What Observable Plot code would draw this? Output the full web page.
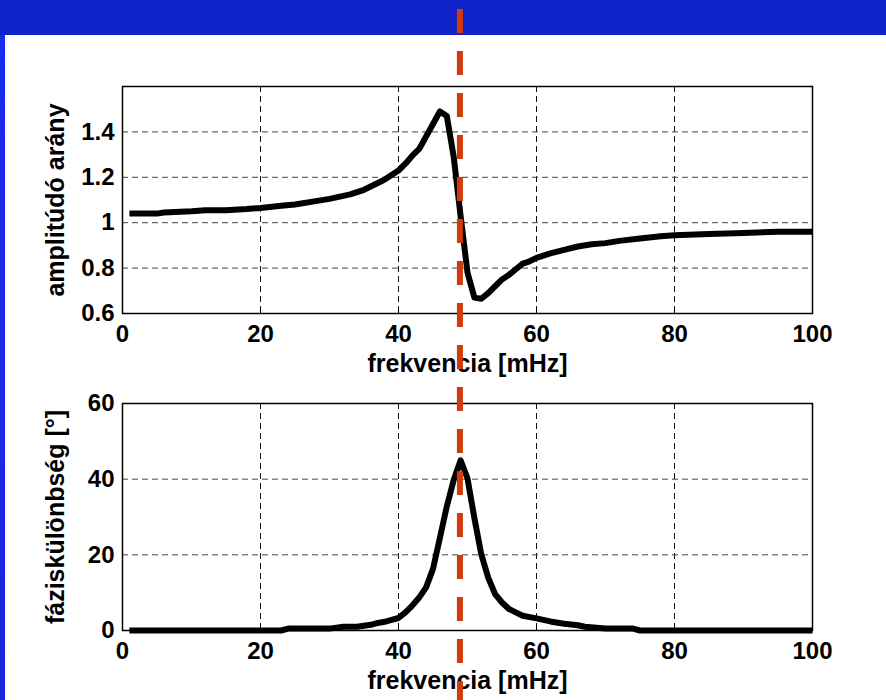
<!DOCTYPE html>
<html>
<head>
<meta charset="utf-8">
<script src="https://cdn.jsdelivr.net/npm/d3@7"></script>
<script src="https://cdn.jsdelivr.net/npm/@observablehq/plot@0.6"></script>
<style>
  html, body { margin: 0; padding: 0; background: #fff; width: 886px; height: 700px; overflow: hidden; }
  #wrap { position: relative; width: 886px; height: 700px; }
  .layer { position: absolute; left: 0; }
  #band { position: absolute; left: 0; top: 0; width: 886px; height: 35px; background: #1023C8; z-index: 5; }
  #strip { position: absolute; left: 0; top: 35px; width: 5px; height: 665px; background: linear-gradient(#1B2CF2, #1828DC); z-index: 5; }
  #overlay { z-index: 10; pointer-events: none; }
  svg text { font-family: "Liberation Sans", Arial, sans-serif; font-weight: bold; }
  g[aria-label="x-axis label"] text, g[aria-label="y-axis label"] text { font-size: 25px; }
</style>
</head>
<body>
<div id="wrap">
  <div id="band"></div>
  <div id="strip"></div>
  <div id="p1" class="layer" style="top:0"></div>
  <div id="p2" class="layer" style="top:390px"></div>
  <div id="overlay" class="layer" style="top:0"></div>
</div>
<script>
// ---- data ----
const xTicks = [0, 20, 40, 60, 80, 100];
const ampTicks = [0.6, 0.8, 1, 1.2, 1.4];
const phaseTicks = [0, 20, 40, 60];
const xLabel = "frekvencia [mHz]";
const ampLabel = "amplitúdó arány";
const phaseLabel = "fáziskülönbség [°]";
const markerFreq = [48.9];

const ampFreq = [1, 5, 6, 10, 12, 15, 18, 20, 23, 25, 28, 30, 33, 35, 37, 38, 39, 40, 41, 42, 43, 44, 45, 46, 47, 48, 49, 50, 51, 52, 53, 54, 55, 56, 57, 58, 59, 60, 61, 62, 64, 66, 68, 70, 72, 75, 78, 80, 85, 90, 95, 100];
const ampValues = [1.04, 1.04, 1.045, 1.05, 1.055, 1.055, 1.06, 1.065, 1.075, 1.08, 1.095, 1.105, 1.125, 1.145, 1.175, 1.19, 1.21, 1.23, 1.26, 1.295, 1.325, 1.38, 1.435, 1.49, 1.47, 1.29, 1.03, 0.78, 0.67, 0.665, 0.69, 0.72, 0.75, 0.77, 0.795, 0.82, 0.83, 0.845, 0.855, 0.865, 0.88, 0.895, 0.905, 0.91, 0.92, 0.93, 0.94, 0.945, 0.95, 0.955, 0.96, 0.96];

const phaseFreq = [1, 10, 20, 23, 24, 30, 32, 34, 36, 37, 38, 39, 40, 41, 42, 43, 44, 45, 46, 47, 48, 49, 50, 51, 52, 53, 54, 55, 56, 57, 58, 60, 62, 64, 66, 67, 70, 74, 75, 80, 90, 100];
const phaseValues = [0, 0, 0, 0, 0.5, 0.5, 1, 1, 1.5, 2, 2.3, 2.8, 3.3, 4.8, 6.6, 8.7, 11.4, 16.3, 24.5, 32.8, 39.8, 45, 40.2, 29.7, 20.1, 14, 9.6, 7.4, 5.7, 4.8, 3.9, 3.2, 2.4, 1.8, 1.4, 1, 0.5, 0.5, 0, 0, 0, 0];

// ---- styles ----
const font = '"Liberation Sans", Arial, sans-serif';
const gridXStyle = { stroke: "#111", strokeOpacity: 1, strokeWidth: 1, strokeDasharray: "6,4" };
const gridYStyle = { stroke: "#444", strokeOpacity: 1, strokeWidth: 1, strokeDasharray: "6,4" };
const W = 886, ML = 122, MR = 74;

function panel({ height, marginTop, marginBottom, yDomain, yTicks, yLabel, xs, ys }) {
  return Plot.plot({
    width: W, height, marginTop, marginBottom, marginLeft: ML, marginRight: MR,
    style: { background: "transparent", fontSize: "24px", fontFamily: font, fontWeight: "bold", color: "black" },
    x: { domain: [0, 100] },
    y: { domain: yDomain },
    marks: [
      Plot.gridX(xTicks, gridXStyle),
      Plot.gridY(yTicks, gridYStyle),
      Plot.axisX(xTicks, { tickSize: 0, tickPadding: 11, tickFormat: d => String(d),
        label: xLabel, labelAnchor: "center", labelOffset: 58, labelArrow: "none" }),
      Plot.axisX(xTicks, { tickSize: -6, tickFormat: () => "", label: null }),
      Plot.axisY(yTicks, { tickSize: 0, tickPadding: 8, tickFormat: d => String(d),
        label: yLabel, labelAnchor: "center", labelOffset: 76, labelArrow: "none" }),
      Plot.frame({ stroke: "black", strokeWidth: 1.5 }),
      Plot.line(ys, { x: xs, y: ys, stroke: "black", strokeWidth: 6, strokeLinejoin: "round", strokeLinecap: "butt" })
    ]
  });
}

document.getElementById("p1").append(panel({
  height: 390, marginTop: 86, marginBottom: 77,
  yDomain: [0.6, 1.6], yTicks: ampTicks, yLabel: ampLabel, xs: ampFreq, ys: ampValues
}));

document.getElementById("p2").append(panel({
  height: 310, marginTop: 13, marginBottom: 70,
  yDomain: [0, 60], yTicks: phaseTicks, yLabel: phaseLabel, xs: phaseFreq, ys: phaseValues
}));

// red dashed marker across the whole figure
document.getElementById("overlay").append(Plot.plot({
  width: W, height: 700, marginTop: 0, marginBottom: 0, marginLeft: ML, marginRight: MR,
  style: { background: "transparent" },
  x: { domain: [0, 100], axis: null },
  y: { axis: null },
  marks: [
    Plot.ruleX(markerFreq, { stroke: "#D2390B", strokeWidth: 6, strokeDasharray: "24,18", strokeDashoffset: 33 })
  ]
}));
</script>
</body>
</html>
